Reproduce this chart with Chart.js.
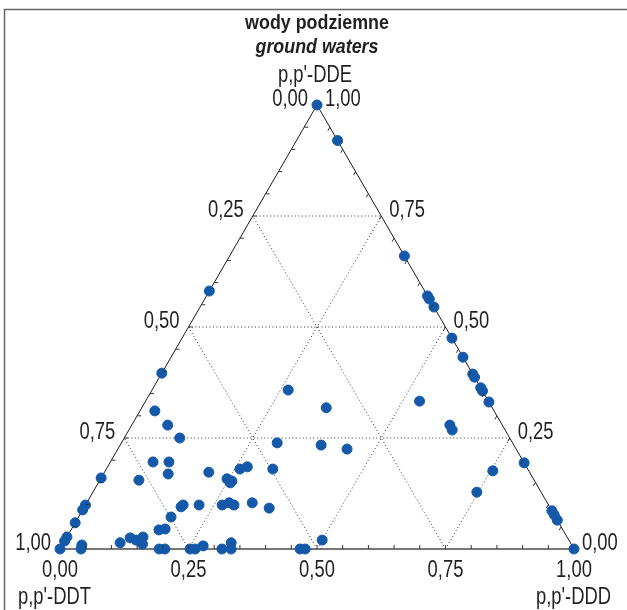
<!DOCTYPE html>
<html>
<head>
<meta charset="utf-8">
<script src="https://cdn.jsdelivr.net/npm/chart.js@4/dist/chart.umd.min.js"></script>
<style>
body { margin: 0; background: #fff; }
canvas { display: block; }
</style>
</head>
<body>
<canvas id="myChart" width="627" height="610"></canvas>
<script>
// udzialy (p,p'-DDT = 1 - DDD - DDE)
const dddShare = [
  0, 0.08, 0.34, 0.43, 0.437, 0.455, 0.525, 0.568, 0.606, 0.613, 0.637, 0.644, 0.669,
  0.533, 0.619, 0.629, 0.806, 0.754, 0.747, 0.914, 0.923, 0.935, 1,
  0.265, 0.359, 0.303, 0.391, 0.446, 0.5,
  0, 0, 0.029, 0.07, 0.108, 0.083, 0.114, 0.126, 0.076, 0, 0.203, 0.26, 0.272, 0.324,
  0.246, 0.258, 0.257, 0, 0, 0, 0, 0, 0, 0.038, 0.041,
  0.11, 0.124, 0.138, 0.148, 0.155, 0.171, 0.182, 0.18, 0.188, 0.19, 0.221, 0.266,
  0.277, 0.289, 0.322, 0.361,
  0.193, 0.204, 0.253, 0.263, 0.275, 0.315, 0.333, 0.326, 0.467, 0.477
];
const ddeShare = [
  1, 0.92, 0.66, 0.57, 0.563, 0.545, 0.475, 0.432, 0.394, 0.387, 0.363, 0.356, 0.331,
  0.333, 0.279, 0.268, 0.194, 0.176, 0.128, 0.086, 0.077, 0.065, 0,
  0.358, 0.318, 0.239, 0.234, 0.225, 0.02,
  0.581, 0.396, 0.311, 0.279, 0.25, 0.196, 0.196, 0.169, 0.155, 0.16, 0.173, 0.18, 0.185, 0.18,
  0.158, 0.153, 0.149, 0.099, 0.088, 0.059, 0.027, 0.018, 0, 0.009, 0,
  0.014, 0.025, 0.02, 0.027, 0.011, 0.043, 0.045, 0.072, 0.095, 0.099, 0.099, 0.099,
  0.104, 0.099, 0.104, 0.092,
  0, 0, 0, 0, 0.007, 0, 0, 0.014, 0, 0
];
const gridValues = [0.25, 0.5, 0.75];
const tickValues = [0, 0.25, 0.5, 0.75, 1];
const tickLabels = ['0,00', '0,25', '0,50', '0,75', '1,00'];

const H = Math.sqrt(3) / 2;
const FONT = '"Liberation Sans", Arial, sans-serif';
const NARROW = 0.8; // zwezenie jak w Arial Narrow
const textColor = '#231f20';

// wspolrzedne trojkatne -> kartezjanskie
const toXY = (d, e) => ({ x: d + e / 2, y: e * H });

const points = dddShare.map((d, i) => toXY(d, ddeShare[i]));

const lineSet = (data, color, width, dash) => ({
  type: 'line', data, borderColor: color, borderWidth: width, borderDash: dash || [],
  pointRadius: 0, fill: false, tension: 0, clip: false
});

const gridSets = [];
gridValues.forEach(g => {
  gridSets.push(lineSet([toXY(0, g), toXY(1 - g, g)], '#333', 1, [1, 2.5]));
  gridSets.push(lineSet([toXY(g, 0), toXY(g, 1 - g)], '#333', 1, [1, 2.5]));
  gridSets.push(lineSet([toXY(1 - g, 0), toXY(0, 1 - g)], '#333', 1, [1, 2.5]));
});

const frame = [
  lineSet([toXY(0, 0), toXY(0, 1)], '#1a1a1a', 1),
  lineSet([toXY(1, 0), toXY(0, 1)], '#1a1a1a', 1),
  lineSet([toXY(0, 0), toXY(1, 0)], '#777', 2)
];

// tekst zwezony w poziomie
function narrowText(ctx, text, x, y, align, sx) {
  ctx.save();
  ctx.translate(x, y);
  ctx.scale(sx || NARROW, 1);
  ctx.textAlign = align;
  ctx.fillText(text, 0, 0);
  ctx.restore();
}

const ternaryDecor = {
  id: 'ternaryDecor',
  afterDatasetsDraw(chart) {
    const { ctx, scales: { x, y } } = chart;
    const px = (d, e) => {
      const p = toXY(d, e);
      return [x.getPixelForValue(p.x), y.getPixelForValue(p.y)];
    };
    ctx.save();
    // ramka
    ctx.strokeStyle = '#666';
    ctx.lineWidth = 1.5;
    ctx.beginPath();
    ctx.moveTo(4.5, 610);
    ctx.lineTo(4.5, 9.5);
    ctx.lineTo(627, 9.5);
    ctx.stroke();

    // kreski podzialki co 0,05
    ctx.strokeStyle = '#333';
    ctx.lineWidth = 1;
    for (let k = 1; k < 20; k++) {
      const v = k / 20;
      let [a, b] = px(0, v);
      ctx.beginPath(); ctx.moveTo(a, b); ctx.lineTo(a + 4, b); ctx.stroke();
      [a, b] = px(1 - v, v);
      ctx.beginPath(); ctx.moveTo(a, b); ctx.lineTo(a - 2, b + 3.5); ctx.stroke();
      [a, b] = px(v, 0);
      ctx.beginPath(); ctx.moveTo(a, b); ctx.lineTo(a, b - 4); ctx.stroke();
    }

    ctx.fillStyle = textColor;
    ctx.textBaseline = 'middle';
    ctx.font = '23px ' + FONT;
    tickValues.forEach((v, i) => {
      // lewy bok: DDT
      let [a, b] = px(0, 1 - v);
      narrowText(ctx, tickLabels[i], a - 9, b - 5, 'right');
      // prawy bok: DDE
      [a, b] = px(1 - v, v);
      narrowText(ctx, tickLabels[i], a + 8, b - 5, 'left');
      // podstawa: DDD
      [a, b] = px(v, 0);
      narrowText(ctx, tickLabels[i], a, b + 22, 'center');
    });

    const [tx, ty] = px(0, 1);
    narrowText(ctx, "p,p'-DDE", tx - 2, ty - 29, 'center');
    const [lx, ly] = px(0, 0);
    narrowText(ctx, "p,p'-DDT", lx - 42, ly + 49, 'left');
    const [rx, ry] = px(1, 0);
    narrowText(ctx, "p,p'-DDD", rx + 37, ry + 49, 'right');

    ctx.font = 'bold 21px ' + FONT;
    narrowText(ctx, 'wody podziemne', tx, 23, 'center', 0.85);
    ctx.font = 'italic bold 21px ' + FONT;
    narrowText(ctx, 'ground waters', tx, 47, 'center', 0.85);
    ctx.restore();
  }
};

const ctx = document.getElementById('myChart').getContext('2d');
new Chart(ctx, {
  type: 'scatter',
  data: {
    datasets: [{
      data: points,
      backgroundColor: '#1459a9',
      borderColor: '#1459a9',
      pointRadius: 5,
      pointHoverRadius: 5,
      clip: false
    }, ...frame, ...gridSets]
  },
  options: {
    responsive: false,
    animation: false,
    layout: { padding: { left: 60, right: 53, top: 105, bottom: 61 } },
    scales: {
      x: { type: 'linear', min: 0, max: 1, display: false },
      y: { type: 'linear', min: 0, max: H, display: false }
    },
    plugins: { legend: { display: false }, tooltip: { enabled: false } }
  },
  plugins: [ternaryDecor]
});
</script>
</body>
</html>
